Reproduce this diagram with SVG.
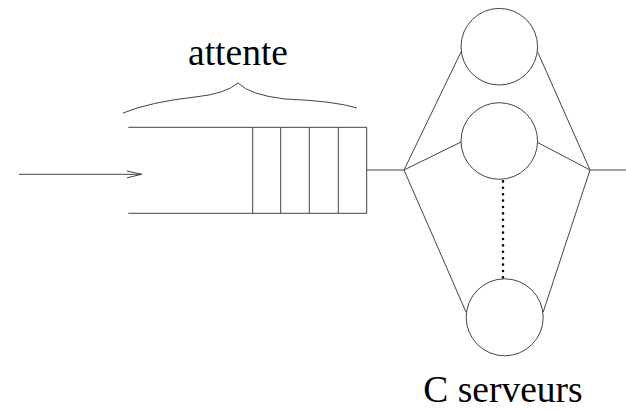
<svg xmlns="http://www.w3.org/2000/svg" width="626" height="411" viewBox="0 0 626 411">
<style>
.ln{fill:none;stroke:#444;stroke-width:1}
.srv{fill:#fff;stroke:#444;stroke-width:1}
.lbl{font-family:"Liberation Serif","Times New Roman",serif;font-size:37.5px;fill:#000}
.dots{fill:none;stroke:#000;stroke-width:2.6;stroke-linecap:round;stroke-dasharray:0 6.4}
</style>
<rect width="626" height="411" fill="#fff"/>
<g id="connectors">
<line class="ln" x1="19" y1="174.3" x2="141.7" y2="174.3"/>
<polyline class="ln" points="127,171 141.7,174.3 127,177.8"/>
<line class="ln" x1="366.7" y1="170" x2="404" y2="170"/>
<line class="ln" x1="404" y1="170" x2="461" y2="52"/>
<line class="ln" x1="404" y1="170" x2="461" y2="142"/>
<line class="ln" x1="404" y1="170" x2="466" y2="312"/>
<line class="ln" x1="537.7" y1="52" x2="590" y2="170"/>
<line class="ln" x1="537.7" y1="142.5" x2="590" y2="170"/>
<line class="ln" x1="543.2" y1="312" x2="590" y2="170"/>
<line class="ln" x1="590" y1="170" x2="626" y2="170"/>
<line class="dots" x1="503" y1="175" x2="503" y2="284"/>
</g>
<g id="queue">
<polyline class="ln" points="128.3,127.3 366.7,127.3 366.7,213.3 128.3,213.3"/>
<line class="ln" x1="252.7" y1="127.3" x2="252.7" y2="213.3"/>
<line class="ln" x1="280.7" y1="127.3" x2="280.7" y2="213.3"/>
<line class="ln" x1="309.3" y1="127.3" x2="309.3" y2="213.3"/>
<line class="ln" x1="338.3" y1="127.3" x2="338.3" y2="213.3"/>
</g>
<g id="attente">
<path class="ln" d="M123,113 Q150,102 195,97 Q225,94 238,83 Q250,95 285,99 Q335,101 357,108"/>
<text class="lbl" x="238" y="65" text-anchor="middle">attente</text>
</g>
<g id="server1"><circle class="srv" cx="499.3" cy="46.7" r="38.3"/></g>
<g id="server2"><circle class="srv" cx="499.3" cy="141" r="38.3"/></g>
<g id="serverC"><circle class="srv" cx="504.7" cy="317.3" r="38.5"/></g>
<g id="label-serveurs">
<text class="lbl" x="503" y="402" text-anchor="middle">C serveurs</text>
</g>
</svg>
